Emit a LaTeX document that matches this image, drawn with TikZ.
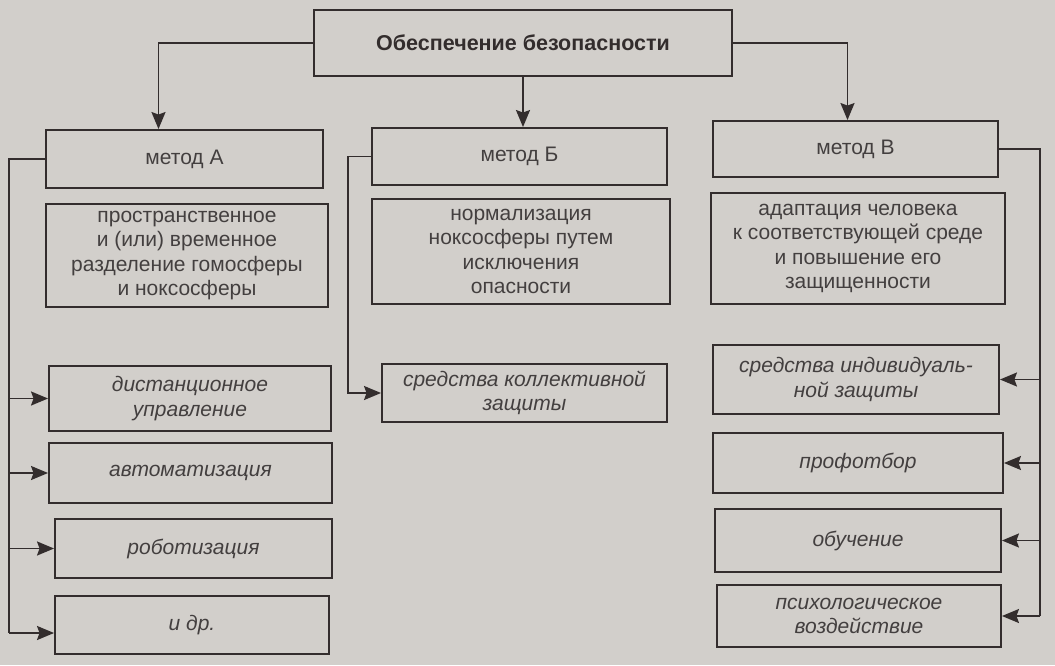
\documentclass[tikz,border=0pt]{standalone}
\usepackage{fontspec}
\setmainfont{Liberation Sans}
\usetikzlibrary{arrows.meta}
\definecolor{bg}{HTML}{D2CFCB}
\definecolor{ink}{HTML}{332D2D}
\definecolor{txt}{HTML}{433F3F}
\begin{document}
\begin{tikzpicture}[x=1pt,y=-1pt,
  box/.style={draw=ink, line width=1.9pt, inner sep=0pt, align=center, text=txt,
    font=\fontsize{21}{24.5}\selectfont},
  ibox/.style={box, font=\fontsize{21}{24.5}\selectfont\itshape},
  arr/.style={draw=ink, line width=1.9pt, -{Stealth[length=17pt,width=14pt,inset=2.5pt]}},
  ln/.style={draw=ink, line width=1.9pt}]
\fill[bg] (0,0) rectangle (1055,665);
\useasboundingbox (0,0) rectangle (1055,665);

\node[box, minimum width=418pt, minimum height=66pt, font=\fontsize{21.5}{24.5}\selectfont\bfseries, text=ink] (top) at (523,43) {Обеспечение безопасности};

\node[box, minimum width=277pt, minimum height=58pt] (A) at (184.5,159) {метод А};
\node[box, minimum width=295pt, minimum height=57pt] (B) at (519.5,156.5) {метод Б};
\node[box, minimum width=285pt, minimum height=56pt] (V) at (855.5,149) {метод В};

\node[box, minimum width=282pt, minimum height=103pt] (Ad) at (187,255.5) {\raisebox{-3pt}{\parbox{280pt}{\centering пространственное\\и (или) временное\\разделение гомосферы\\и ноксосферы}}};
\node[box, minimum width=298pt, minimum height=105pt] (Bd) at (521,251.5) {\raisebox{-2pt}{\parbox{296pt}{\centering нормализация\\ноксосферы путем\\исключения\\опасности}}};
\node[box, minimum width=294pt, minimum height=111pt] (Vd) at (858,248.5) {\raisebox{-4pt}{\parbox{292pt}{\centering адаптация человека\\к соответствующей среде\\и повышение его\\защищенности}}};

\node[ibox, minimum width=282pt, minimum height=65pt] (d1) at (190,398.5) {дистанционное\\управление};
\node[ibox, minimum width=283pt, minimum height=60pt] (d2) at (190.5,473) {автоматизация};
\node[ibox, minimum width=277pt, minimum height=59pt] (d3) at (193.5,548.5) {роботизация};
\node[ibox, minimum width=274pt, minimum height=58pt] (d4) at (192,625) {и др.};

\node[ibox, minimum width=285pt, minimum height=58pt] (kol) at (524.5,393) {средства коллективной\\защиты};

\node[ibox, minimum width=286pt, minimum height=69pt] (r1) at (856,379.5) {средства индивидуаль-\\ной защиты};
\node[ibox, minimum width=290pt, minimum height=60pt] (r2) at (858,463) {профотбор};
\node[ibox, minimum width=286pt, minimum height=63pt] (r3) at (858,540.5) {обучение};
\node[ibox, minimum width=284pt, minimum height=62pt] (r4) at (859,616) {психологическое\\воздействие};

% top connectors
\draw[arr] (top.west) -| ([xshift=-26pt]A.north);
\draw[arr] (top.south) -- (top.south |- B.north);
\draw[arr] (top.east) -| ([xshift=-8pt]V.north);

% method A branch
\draw[ln] (A.west) -- ++(-36,0) coordinate (la) -- (la |- 0,633);
\draw[arr] (la |- d1.west) -- (d1.west);
\draw[arr] (la |- d2.west) -- (d2.west);
\draw[arr] (la |- d3.west) -- (d3.west);
\draw[arr] (la |- 0,633) -- (d4.west |- 0,633);

% method B branch
\draw[arr] (B.west) -- ++(-23,0) coordinate (lb) |- (kol.west);

% method V branch
\draw[ln] (V.east) -- ++(41,0) coordinate (lv) -- (lv |- r4.east);
\draw[arr] (lv |- r1.east) -- (r1.east);
\draw[arr] (lv |- r2.east) -- (r2.east);
\draw[arr] (lv |- r3.east) -- (r3.east);
\draw[arr] (lv |- r4.east) -- (r4.east);
\end{tikzpicture}
\end{document}
